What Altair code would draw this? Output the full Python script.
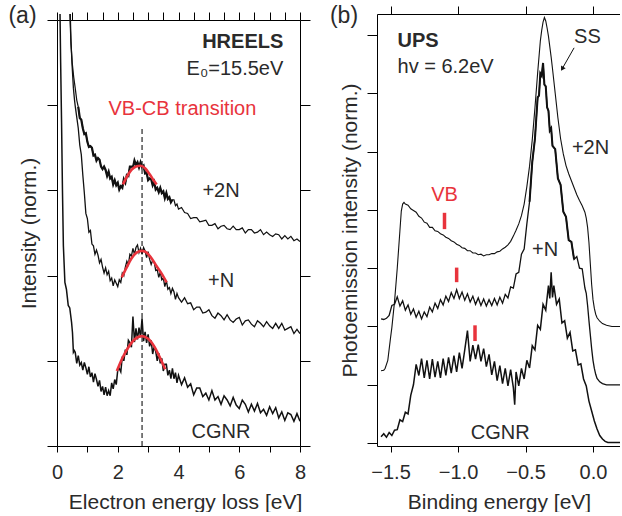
import altair as alt
import pandas as pd

FONT = "Liberation Sans"
INK = "#111111"
TEXT = "#2a2a2a"
RED = "#e8333c"

# ---------------- (a) HREELS, E0 = 15.5 eV ----------------
# common energy-loss grid (eV)
loss_ev = [
    0.60, 0.65, 0.70, 0.75, 0.80, 0.85, 0.90, 0.95, 1.00, 1.05,
    1.10, 1.15, 1.20, 1.25, 1.30, 1.35, 1.40, 1.45, 1.50, 1.55,
    1.60, 1.65, 1.70, 1.75, 1.80, 1.85, 1.90, 1.95, 2.00, 2.05,
    2.10, 2.15, 2.20, 2.25, 2.30, 2.35, 2.40, 2.45, 2.50, 2.55,
    2.60, 2.65, 2.70, 2.75, 2.80, 2.85, 2.90, 2.95, 3.00, 3.05,
    3.10, 3.15, 3.20, 3.25, 3.30, 3.35, 3.40, 3.45, 3.50, 3.55,
    3.60, 3.65, 3.70, 3.75, 3.80, 3.85, 3.90, 3.95, 4.00,
    4.1, 4.2, 4.3, 4.4, 4.5, 4.6, 4.7, 4.8, 4.9, 5.0,
    5.1, 5.2, 5.3, 5.4, 5.5, 5.6, 5.7, 5.8, 5.9, 6.0,
    6.1, 6.2, 6.3, 6.4, 6.5, 6.6, 6.7, 6.8, 6.9, 7.0,
    7.1, 7.2, 7.3, 7.4, 7.5, 7.6, 7.7, 7.8, 7.9, 8.0,
]
loss_2n = [
    4.20, 4.06, 3.98, 3.85, 3.83, 3.73, 3.66, 3.67, 3.57, 3.51,
    3.52, 3.50, 3.41, 3.42, 3.35, 3.38, 3.36, 3.28, 3.25, 3.28,
    3.24, 3.17, 3.22, 3.14, 3.16, 3.07, 3.12, 3.06, 3.09, 3.01,
    3.05, 3.03, 3.13, 3.09, 3.18, 3.17, 3.28, 3.28, 3.27, 3.35,
    3.30, 3.33, 3.27, 3.33, 3.27, 3.29, 3.20, 3.21, 3.12, 3.14,
    3.13, 3.06, 3.10, 3.01, 3.03, 2.98, 3.03, 2.97, 2.99, 2.91,
    2.97, 2.90, 2.92, 2.86, 2.89, 2.89, 2.82, 2.84, 2.78,
    2.80, 2.74, 2.73, 2.67, 2.68, 2.68, 2.63, 2.64, 2.65, 2.59,
    2.59, 2.61, 2.55, 2.58, 2.59, 2.55, 2.54, 2.58, 2.54, 2.54,
    2.56, 2.50, 2.54, 2.54, 2.50, 2.51, 2.54, 2.48, 2.51, 2.48,
    2.46, 2.49, 2.48, 2.43, 2.47, 2.43, 2.46, 2.41, 2.43, 2.40,
]
loss_1n = [
    3.99, 3.86, 3.73, 3.53, 3.42, 3.18, 2.97, 2.73, 2.67, 2.51,
    2.53, 2.37, 2.35, 2.25, 2.30, 2.24, 2.15, 2.19, 2.10, 2.03,
    2.09, 2.01, 2.05, 1.94, 1.97, 1.88, 1.95, 1.91, 1.87, 1.95,
    1.92, 2.03, 2.00, 2.10, 2.17, 2.13, 2.25, 2.23, 2.32, 2.25,
    2.33, 2.36, 2.27, 2.32, 2.25, 2.33, 2.29, 2.21, 2.28, 2.19,
    2.13, 2.18, 2.16, 2.06, 2.07, 1.98, 2.04, 1.95, 1.97, 1.87,
    1.94, 1.84, 1.86, 1.79, 1.85, 1.81, 1.72, 1.79, 1.74,
    1.69, 1.74, 1.67, 1.68, 1.60, 1.63, 1.63, 1.56, 1.57, 1.60,
    1.53, 1.50, 1.56, 1.53, 1.48, 1.54, 1.48, 1.45, 1.49, 1.51,
    1.42, 1.47, 1.48, 1.43, 1.40, 1.47, 1.44, 1.40, 1.46, 1.41,
    1.38, 1.44, 1.38, 1.44, 1.36, 1.38, 1.40, 1.32, 1.37, 1.32,
]
loss_cgnr = [
    1.10, 0.97, 1.06, 0.95, 0.98, 0.89, 0.98, 0.92, 0.84, 0.93,
    0.81, 0.86, 0.75, 0.85, 0.78, 0.70, 0.77, 0.64, 0.70, 0.60,
    0.69, 0.59, 0.65, 0.59, 0.74, 0.67, 0.78, 0.72, 0.89, 0.91,
    0.87, 1.05, 1.00, 1.13, 1.07, 1.24, 1.21, 1.16, 1.52, 1.22,
    1.38, 1.25, 1.39, 1.28, 1.50, 1.23, 1.34, 1.21, 1.31, 1.17,
    1.24, 1.08, 1.17, 1.11, 1.00, 1.09, 0.97, 1.03, 0.88, 0.96,
    0.96, 0.83, 0.89, 0.79, 0.91, 0.79, 0.86, 0.74, 0.83,
    0.72, 0.80, 0.69, 0.73, 0.60, 0.68, 0.68, 0.58, 0.62, 0.54,
    0.65, 0.54, 0.58, 0.49, 0.59, 0.54, 0.47, 0.57, 0.48, 0.44,
    0.54, 0.49, 0.40, 0.49, 0.41, 0.50, 0.39, 0.43, 0.36, 0.46,
    0.38, 0.45, 0.33, 0.40, 0.30, 0.39, 0.37, 0.29, 0.38, 0.29,
]
# steep elastic-peak tails ahead of the common grid
head_2n_ev = [0.40, 0.43, 0.46, 0.50, 0.55]
head_2n = [5.40, 5.00, 4.72, 4.50, 4.33]
head_1n_ev = [0.42, 0.46, 0.50, 0.54, 0.58]
head_1n = [5.30, 4.75, 4.45, 4.20, 4.05]
head_cgnr_ev = [0.08, 0.12, 0.15, 0.18, 0.21, 0.26, 0.31, 0.37, 0.42, 0.48, 0.51, 0.54, 0.57]
head_cgnr = [5.60, 4.50, 3.80, 3.00, 2.35, 1.92, 1.84, 1.65, 1.62, 1.45, 1.33, 1.10, 1.12]

# fitted VB-CB transition peaks
fit_2n_ev = [2.17, 2.30, 2.45, 2.60, 2.75, 2.90, 3.05, 3.18, 3.28]
fit_2n = [3.07, 3.16, 3.24, 3.28, 3.29, 3.26, 3.19, 3.12, 3.07]
fit_1n_ev = [2.13, 2.30, 2.45, 2.62, 2.79, 2.95, 3.10, 3.28, 3.45, 3.61]
fit_1n = [1.98, 2.10, 2.20, 2.27, 2.29, 2.27, 2.21, 2.11, 2.02, 1.92]
fit_cgnr_ev = [1.97, 2.15, 2.35, 2.55, 2.79, 3.00, 3.20, 3.40, 3.56]
fit_cgnr = [0.88, 1.03, 1.16, 1.25, 1.29, 1.26, 1.17, 1.03, 0.90]
transition_ev = 2.8

loss_ticks = [0, 0.5, 1, 1.5, 2, 2.5, 3, 3.5, 4, 4.5, 5, 5.5, 6, 6.5, 7, 7.5, 8]
loss_levels = [0, 1, 2, 3, 4, 5]

# ---------------- (b) UPS, hv = 6.2 eV ----------------
ups_2n_ev = [
    -1.57, -1.55, -1.54, -1.52, -1.50, -1.49, -1.47, -1.45, -1.43, -1.42, -1.41, -1.40, -1.39,
    -1.37, -1.35, -1.33, -1.31, -1.29, -1.27, -1.25, -1.23, -1.21, -1.19,
    -1.17, -1.15, -1.13, -1.11, -1.09, -1.07, -1.05, -1.03, -1.01, -0.99,
    -0.97, -0.95, -0.93, -0.91, -0.89, -0.87, -0.85, -0.83, -0.81, -0.79,
    -0.77, -0.75, -0.73, -0.71, -0.69, -0.67, -0.65, -0.63, -0.61, -0.59,
    -0.57, -0.55, -0.53, -0.51, -0.49, -0.47, -0.45, -0.43, -0.41, -0.39,
    -0.38, -0.37, -0.36, -0.35, -0.34, -0.33, -0.32, -0.31, -0.30,
    -0.28, -0.26, -0.24, -0.22, -0.20, -0.18, -0.16, -0.14, -0.12, -0.10, -0.08, -0.06,
    -0.05, -0.04, -0.03, -0.02, -0.01, 0.00, 0.01, 0.02, 0.03,
    0.05, 0.07, 0.10, 0.14, 0.20,
]
ups_2n = [
    1.24, 1.25, 1.28, 1.42, 1.80, 1.98, 2.43, 3.00, 3.65, 3.98, 4.10, 4.13, 4.10,
    4.08, 4.02, 3.99, 3.96, 3.89, 3.86, 3.79, 3.77, 3.70, 3.70,
    3.64, 3.63, 3.59, 3.57, 3.53, 3.51, 3.47, 3.45, 3.41, 3.39,
    3.35, 3.34, 3.30, 3.30, 3.26, 3.26, 3.23, 3.24, 3.21, 3.23,
    3.23, 3.25, 3.25, 3.28, 3.29, 3.33, 3.36, 3.40, 3.46, 3.55,
    3.65, 3.76, 3.90, 4.10, 4.40, 4.75, 5.20, 5.75, 6.35, 6.90,
    7.08, 7.22, 7.30, 7.24, 7.12, 6.98, 6.80, 6.62, 6.42,
    6.00, 5.58, 5.22, 4.96, 4.76, 4.62, 4.50, 4.38, 4.26, 4.16, 4.07, 3.96,
    3.86, 3.70, 3.44, 3.08, 2.72, 2.46, 2.31, 2.21, 2.15,
    2.09, 2.05, 2.02, 2.00, 2.00,
]
ups_1n_ev = [
    -1.57, -1.55, -1.53, -1.51, -1.49, -1.47, -1.45, -1.43, -1.41, -1.39,
    -1.37, -1.35, -1.33, -1.31, -1.29, -1.27, -1.25, -1.23, -1.21, -1.19,
    -1.17, -1.15, -1.13, -1.11, -1.09, -1.07, -1.05, -1.03, -1.01, -0.99,
    -0.97, -0.95, -0.93, -0.91, -0.89, -0.87, -0.85, -0.83, -0.81, -0.79,
    -0.77, -0.75, -0.73, -0.71, -0.69, -0.67, -0.65, -0.63, -0.61, -0.59,
    -0.57, -0.55, -0.53, -0.51, -0.49, -0.47, -0.45, -0.43, -0.41,
    -0.40, -0.39, -0.38, -0.37, -0.36, -0.35, -0.34, -0.33, -0.32, -0.31, -0.30,
    -0.28, -0.26, -0.24, -0.22, -0.20, -0.18, -0.16, -0.14, -0.12, -0.10, -0.08, -0.06,
    -0.05, -0.04, -0.03, -0.02, -0.01, 0.00, 0.01, 0.02, 0.03,
    0.05, 0.07, 0.10, 0.14, 0.20,
]
ups_1n = [
    2.13, 2.12, 2.14, 2.19, 2.36, 2.38, 2.51, 2.35, 2.44, 2.28,
    2.37, 2.21, 2.30, 2.16, 2.26, 2.13, 2.25, 2.17, 2.33, 2.25,
    2.40, 2.31, 2.46, 2.37, 2.52, 2.43, 2.58, 2.48, 2.63, 2.48,
    2.59, 2.45, 2.56, 2.42, 2.52, 2.38, 2.49, 2.36, 2.47, 2.35,
    2.46, 2.36, 2.48, 2.37, 2.50, 2.40, 2.55, 2.49, 2.68, 2.66,
    2.90, 2.93, 3.24, 3.33, 3.76, 4.14, 4.82, 5.22, 5.93,
    5.96, 6.34, 6.30, 6.52, 6.15, 6.12, 5.76, 5.70, 5.36, 5.40, 5.10,
    5.04, 4.54, 4.43, 3.97, 3.88, 3.48, 3.45, 3.15, 3.20, 3.00, 2.99, 2.66,
    2.57, 2.36, 2.10, 1.86, 1.62, 1.42, 1.28, 1.18, 1.11,
    1.05, 1.02, 1.00, 1.00, 1.00,
]
ups_cgnr_ev = [
    -1.57, -1.55, -1.53, -1.51, -1.49, -1.47, -1.45, -1.43, -1.41, -1.39,
    -1.37, -1.35, -1.33, -1.31, -1.29, -1.27, -1.25, -1.23, -1.21, -1.19,
    -1.17, -1.15, -1.13, -1.11, -1.09, -1.07, -1.05, -1.03, -1.01, -0.99,
    -0.97, -0.95, -0.93, -0.91, -0.89, -0.87, -0.85, -0.83, -0.81, -0.79,
    -0.77, -0.75, -0.73, -0.71, -0.69, -0.67, -0.65, -0.63, -0.61, -0.59,
    -0.58,
    -0.57, -0.55, -0.53, -0.51, -0.49, -0.47, -0.45, -0.43, -0.41, -0.39, -0.37, -0.35, -0.33,
    -0.32, -0.31, -0.30,
    -0.29, -0.27, -0.25, -0.23, -0.21, -0.19, -0.17, -0.15, -0.13, -0.11,
    -0.09, -0.07, -0.05, -0.03, -0.01, 0.01, 0.03, 0.05, 0.07, 0.09, 0.11,
    0.14, 0.20,
]
ups_cgnr = [
    0.11, 0.16, 0.10, 0.18, 0.13, 0.22, 0.23, 0.40, 0.37, 0.53,
    0.50, 0.82, 1.00, 1.35, 1.16, 1.45, 1.12, 1.42, 1.10, 1.44,
    1.13, 1.40, 1.12, 1.45, 1.16, 1.47, 1.20, 1.50, 1.22, 1.55,
    1.28, 1.60, 1.93, 1.40, 1.68, 1.44, 1.69, 1.40, 1.62, 1.31,
    1.52, 1.17, 1.40, 1.07, 1.33, 1.02, 1.28, 0.98, 1.26, 0.95,
    0.66,
    1.22, 0.98, 1.28, 1.10, 1.42, 1.29, 1.67, 1.60, 2.02, 1.95, 2.38, 2.28, 2.70,
    2.48, 2.93, 2.50,
    2.70, 2.38, 2.47, 2.06, 2.10, 1.80, 1.90, 1.58, 1.60, 1.34,
    1.36, 1.10, 0.98, 0.72, 0.55, 0.38, 0.24, 0.13, 0.07, 0.03, 0.01,
    0.01, 0.01,
]
# valence-band onset markers (eV, lower / upper end of each bar)
vb_ev = [-1.10, -1.01, -0.874]
vb_lo = [3.67, 2.76, 1.75]
vb_hi = [3.95, 3.01, 2.02]

be_ticks = [-1.5, -1.0, -0.5, 0.0]
ups_levels = [0, 1, 2, 3, 4, 5, 6, 7]


def frame(name, xs, ys, width):
    return pd.DataFrame({
        "x": xs, "v": ys, "series": name, "w": width, "idx": list(range(len(xs))),
    })


hreels = pd.concat([
    frame("+2N", head_2n_ev + loss_ev, head_2n + loss_2n, 1.2),
    frame("+2N noisy", loss_ev[2:65], loss_2n[2:65], 2.2),
    frame("+N", head_1n_ev + loss_ev, head_1n + loss_1n, 1.3),
    frame("CGNR", head_cgnr_ev + loss_ev, head_cgnr + loss_cgnr, 1.5),
])
fits = pd.concat([
    frame("+2N", fit_2n_ev, fit_2n, 2.6),
    frame("+N", fit_1n_ev, fit_1n, 2.6),
    frame("CGNR", fit_cgnr_ev, fit_cgnr, 2.6),
])
ups = pd.concat([
    frame("+2N", ups_2n_ev, ups_2n, 1.1),
    frame("+N", ups_1n_ev, ups_1n, 1.3),
    frame("+N peak", ups_1n_ev[55:78], ups_1n[55:78], 2.0),
    frame("CGNR", ups_cgnr_ev, ups_cgnr, 1.5),
])

# both panels share a 432 px tall plot group; the HREELS frame starts 6 px lower
PANEL_H = 432
A_TOP = 6
xa = alt.Scale(domain=[0, 8], nice=False, zero=False)
ya = alt.Scale(domain=[0, 5], range=[PANEL_H, A_TOP], nice=False, zero=False)
xb = alt.Scale(domain=[-1.6, 0.2], nice=False, zero=False)
yb = alt.Scale(domain=[-0.05, 7.36], nice=False, zero=False)


def text_layer(df, xs, ys, size=20, color=TEXT, weight="normal", align="center"):
    return alt.Chart(df).mark_text(
        font=FONT, fontSize=size, color=color, fontWeight=weight, align=align, baseline="middle"
    ).encode(
        x=alt.X("x:Q", scale=xs, axis=None),
        y=alt.Y("v:Q", scale=ys, axis=None),
        text="t:N",
    )


def panel_letter(letter, dx, dy):
    return alt.Chart(pd.DataFrame({"t": [letter]})).mark_text(
        font=FONT, fontSize=23, color=TEXT, align="center", baseline="middle"
    ).encode(text="t:N", x=alt.value(dx), y=alt.value(dy))


def spectra(df, xs, ys, x_axis, y_axis):
    return alt.Chart(df).mark_line(color=INK, clip=True).encode(
        x=alt.X("x:Q", scale=xs, axis=x_axis),
        y=alt.Y("v:Q", scale=ys, axis=y_axis),
        strokeWidth=alt.StrokeWidth("w:Q", scale=None, legend=None),
        detail="series:N",
        order="idx:Q",
    )


# ---------- panel (a) ----------
dash_a = alt.Chart(pd.DataFrame({"x": [transition_ev], "v0": [0.0], "v1": [3.75]})).mark_rule(
    color=INK, strokeWidth=1.1, strokeDash=[5, 3]
).encode(
    x=alt.X("x:Q", scale=xa, axis=None),
    y=alt.Y("v0:Q", scale=ya, axis=None),
    y2="v1:Q",
)

spectra_a = spectra(
    hreels, xa, ya,
    alt.Axis(
        orient="bottom", values=loss_ticks, format="d",
        labelExpr="datum.value % 2 === 0 ? datum.label : ''",
        labelOverlap=False, labelFlush=False, tickSize=6, labelPadding=10,
        title="Electron energy loss [eV]", titleX=128, titleY=62, titleBaseline="alphabetic",
        titleAlign="center"),
    alt.Axis(
        orient="left", values=loss_levels, labels=False, tickSize=10,
        title="Intensity (norm.)", titleX=-22, titleY=A_TOP + 213, titleBaseline="alphabetic",
        titleAlign="center", titleAngle=270),
)

fits_a = alt.Chart(fits).mark_line(color=RED, strokeWidth=2.6, interpolate="monotone").encode(
    x=alt.X("x:Q", scale=xa, axis=alt.Axis(
        orient="top", offset=-A_TOP, values=loss_ticks, labels=False, tickSize=8, title=None)),
    y=alt.Y("v:Q", scale=ya, axis=alt.Axis(
        orient="right", values=loss_levels, labels=False, tickSize=10, title=None)),
    detail="series:N",
    order="idx:Q",
)

labels_a = pd.DataFrame({"x": [5.40, 5.40, 5.40], "v": [2.99, 1.94, 0.17], "t": ["+2N", "+N", "CGNR"]})
head_a = pd.DataFrame({"x": [7.45], "v": [4.74], "t": ["HREELS"]})
sub_a = pd.DataFrame({"x": [7.45], "v": [4.42], "t": ["E\u2080=15.5eV"]})
red_a = pd.DataFrame({"x": [4.13], "v": [3.96], "t": ["VB-CB transition"]})

panel_a = alt.layer(
    dash_a,
    spectra_a,
    fits_a,
    text_layer(labels_a, xa, ya),
    text_layer(head_a, xa, ya, weight="bold", align="right"),
    text_layer(sub_a, xa, ya, align="right"),
    text_layer(red_a, xa, ya, color=RED),
    panel_letter("(a)", -34.5, 2),
).resolve_axis(x="independent", y="independent").properties(width=243, height=PANEL_H)

# ---------- panel (b) ----------
spectra_b = spectra(
    ups, xb, yb,
    alt.Axis(
        orient="bottom", values=be_ticks, format=".1f", labelOverlap=False, labelFlush=False,
        tickSize=6, labelPadding=10,
        title="Binding energy [eV]", titleX=122, titleY=62, titleBaseline="alphabetic",
        titleAlign="center"),
    alt.Axis(
        orient="left", values=ups_levels, labels=False, tickSize=10,
        title="Photoemission intensity (norm.)", titleX=-21, titleY=216,
        titleBaseline="alphabetic", titleAlign="center", titleAngle=270),
)

vb_b = alt.Chart(pd.DataFrame({"x": vb_ev, "lo": vb_lo, "hi": vb_hi})).mark_rule(
    color=RED, strokeWidth=3.5
).encode(
    x=alt.X("x:Q", scale=xb, axis=alt.Axis(
        orient="top", values=be_ticks, labels=False, tickSize=8, title=None)),
    y=alt.Y("lo:Q", scale=yb, axis=None),
    y2="hi:Q",
)

arrow_line = alt.Chart(pd.DataFrame({"x": [-0.140], "v": [6.78], "x2": [-0.226], "v2": [6.43]})).mark_rule(
    color=INK, strokeWidth=1
).encode(
    x=alt.X("x:Q", scale=xb, axis=None),
    y=alt.Y("v:Q", scale=yb, axis=None),
    x2="x2:Q",
    y2="v2:Q",
)
arrow_head = alt.Chart(pd.DataFrame({"x": [-0.228], "v": [6.42]})).mark_point(
    shape="triangle-up", filled=True, color=INK, size=28, angle=210, opacity=1
).encode(
    x=alt.X("x:Q", scale=xb, axis=None),
    y=alt.Y("v:Q", scale=yb, axis=None),
)

labels_b = pd.DataFrame({
    "x": [-0.041, -0.018, -0.355, -0.687],
    "v": [6.97, 5.07, 3.31, 0.18],
    "t": ["SS", "+2N", "+N", "CGNR"],
})
head_b = pd.DataFrame({"x": [-1.448], "v": [6.89], "t": ["UPS"]})
sub_b = pd.DataFrame({"x": [-1.448], "v": [6.45], "t": ["hv = 6.2eV"]})
red_b = pd.DataFrame({"x": [-1.10], "v": [4.25], "t": ["VB"]})

panel_b = alt.layer(
    spectra_b,
    vb_b,
    arrow_line,
    arrow_head,
    text_layer(labels_b, xb, yb),
    text_layer(head_b, xb, yb, weight="bold", align="left"),
    text_layer(sub_b, xb, yb, align="left"),
    text_layer(red_b, xb, yb, color=RED),
    panel_letter("(b)", -33, 2),
).resolve_axis(x="independent", y="independent").properties(width=243, height=PANEL_H)

chart = alt.hconcat(panel_a, panel_b, spacing=18).properties(
    padding={"left": 8, "top": 5, "right": 0, "bottom": 0},
    background="white",
).configure_view(stroke=None).configure_axis(
    grid=False,
    domainColor="black",
    domainWidth=1,
    tickColor="black",
    tickWidth=1,
    labelFont=FONT,
    labelFontSize=20,
    labelColor=TEXT,
    titleFont=FONT,
    titleFontSize=21,
    titleFontWeight="normal",
    titleColor=TEXT,
)

chart.save("out.html", embed_options={"renderer": "svg", "actions": False})
